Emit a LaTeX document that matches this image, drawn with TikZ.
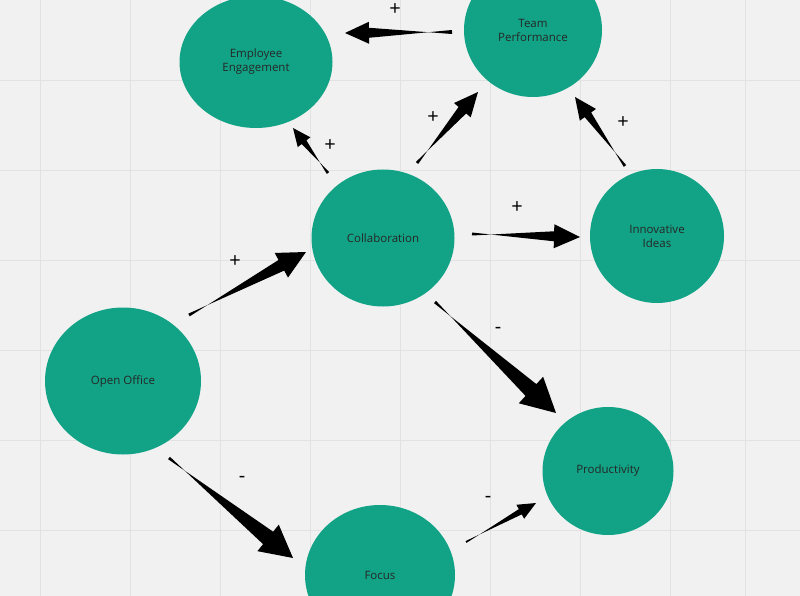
\documentclass[tikz,border=0pt]{standalone}
\usepackage{fontspec}
\setmainfont{Open Sans}
\usetikzlibrary{calc,shapes.geometric}
\definecolor{teal1}{HTML}{12A386}
\definecolor{bg}{HTML}{F1F1F1}
\definecolor{gridc}{HTML}{E2E2E2}
\newcommand\warrow[6]{%
  \coordinate (H) at ($(#2)!#6pt!(#1)$);
  \fill[black] ($(#1)!#3pt!90:(#2)$) -- ($(H)!#4pt!-90:(#2)$) -- ($(H)!#5pt!-90:(#2)$) -- (#2)
   -- ($(H)!#5pt!90:(#2)$) -- ($(H)!#4pt!90:(#2)$) -- ($(#1)!#3pt!-90:(#2)$) -- cycle;}
\begin{document}
\begin{tikzpicture}[x=1pt,y=-1pt,
  circ/.style={ellipse,fill=teal1,inner sep=0pt,align=center,font=\fontsize{11.5}{14}\selectfont,text=black!85},
  sgn/.style={font=\fontsize{20}{20}\selectfont}]
\fill[bg] (0,0) rectangle (800,596);
\useasboundingbox (0,0) rectangle (800,596);
\foreach \x in {40,130,220,310,400,490,580,670,745} \draw[gridc] (\x,0) -- (\x,596);
\foreach \y in {80,170,260,350,440,530} \draw[gridc] (0,\y) -- (800,\y);
\node[circ,minimum width=153,minimum height=132] (ee) at (256,62) {Employee\\Engagement};
\node[circ,minimum width=138,minimum height=134] (tp) at (533,30) {Team\\Performance};
\node[circ,minimum width=143,minimum height=137] (co) at (383,238) {Collaboration};
\node[circ,minimum width=134,minimum height=134] (ii) at (657,236) {Innovative\\Ideas};
\node[circ,minimum width=156,minimum height=147] (oo) at (123,381) {Open Office};
\node[circ,minimum width=131,minimum height=128] (pr) at (608,471) {Productivity};
\node[circ,minimum width=150,minimum height=140] (fo) at (380,575) {Focus};
\coordinate (a1s) at (452,32); \coordinate (a1e) at (345,33);
\coordinate (a2s) at (328,173); \coordinate (a2e) at (293,128);
\coordinate (a3s) at (417,163); \coordinate (a3e) at (478,92);
\coordinate (a4s) at (625,166); \coordinate (a4e) at (575,97);
\coordinate (a5s) at (472,234); \coordinate (a5e) at (580,237);
\coordinate (a6s) at (189,315); \coordinate (a6e) at (306,252);
\coordinate (a7s) at (435,302); \coordinate (a7e) at (556,413);
\coordinate (a8s) at (169,458); \coordinate (a8e) at (293,558);
\coordinate (a9s) at (466,542); \coordinate (a9e) at (536,503);
\warrow{a1s}{a1e}{2}{5}{11}{24}
\warrow{a2s}{a2e}{1.5}{3}{8}{18}
\warrow{a3s}{a3e}{1.5}{5}{11}{24}
\warrow{a4s}{a4e}{1.5}{4}{10}{22}
\warrow{a5s}{a5e}{1.5}{5}{12}{26}
\warrow{a6s}{a6e}{1.5}{6}{14}{28}
\warrow{a7s}{a7e}{1.5}{8}{18}{34}
\warrow{a8s}{a8e}{1.5}{8}{17}{32}
\warrow{a9s}{a9e}{1}{3}{8}{18}
\node[sgn] (p1) at (395,10) {+};
\node[sgn] (p2) at (330,146) {+};
\node[sgn] (p3) at (433,118) {+};
\node[sgn] (p4) at (623,123) {+};
\node[sgn] (p5) at (517,208) {+};
\node[sgn] (p6) at (235,262) {+};
\node[sgn] (m1) at (498,330) {-};
\node[sgn] (m2) at (242,479) {-};
\node[sgn] (m3) at (488,499) {-};
\end{tikzpicture}
\end{document}
